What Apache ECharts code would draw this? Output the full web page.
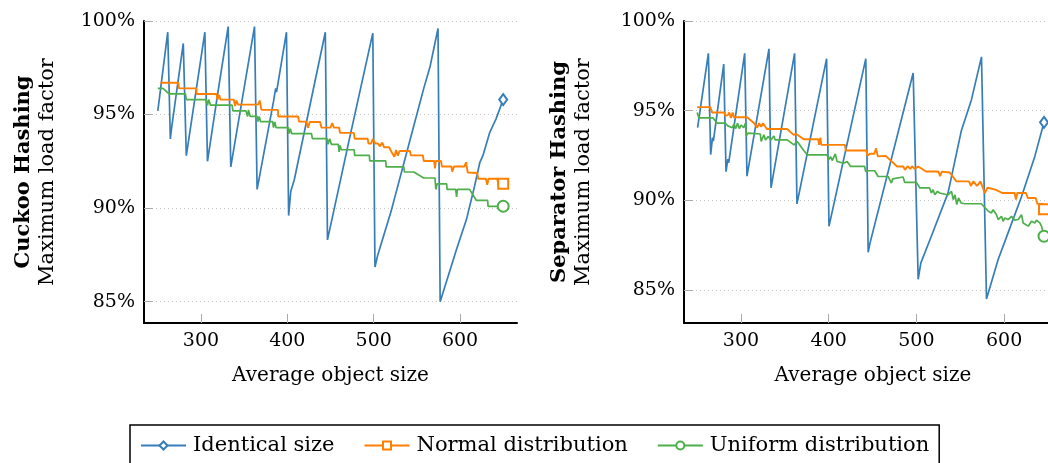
<!DOCTYPE html>
<html>
<head>
<meta charset="utf-8">
<title>Maximum load factor</title>
<script src="https://cdn.jsdelivr.net/npm/echarts@6/dist/echarts.min.js"></script>
<style>
  html, body { margin: 0; padding: 0; background: #fff; overflow: hidden; width: 1048px; height: 463px; }
  /* the right plot runs past the window edge, as in the original */
  #main { width: 1070px; height: 463px; }
</style>
</head>
<body>
<div id="main"></div>
<script>
// tick values
var xTicks = [300, 400, 500, 600];
var yTicks = [85, 90, 95, 100];
var seriesNames = ['Identical size', 'Normal distribution', 'Uniform distribution'];

// Cuckoo hashing, [object size, load factor %]
var cuckooIdentical = [
  [250, 95.2], [261.5, 99.4], [264.5, 93.7], [266, 94.3], [279.5, 98.8], [283, 92.8],
  [304.5, 99.4], [307.5, 92.5], [320, 96.3], [331.5, 99.7], [334.5, 92.2], [362, 99.7],
  [365, 91.0], [384, 95.7], [386.5, 96.4], [387.5, 96.2], [399, 99.4], [401.5, 89.6],
  [404, 90.9], [408, 91.5], [444, 99.4], [446.5, 88.3], [470, 93.3], [499, 99.35],
  [501.5, 86.85], [504.5, 87.45], [514, 88.9], [520, 89.8], [546.5, 94.4], [558, 96.4],
  [565.5, 97.6], [574.5, 99.6], [577, 85.0], [586.5, 86.4], [596, 87.8], [607.5, 89.4],
  [617, 91.2], [623, 92.45], [626.5, 92.8], [634.5, 94.05], [642, 94.8], [650, 95.8]
];
var cuckooNormal = [
  [253, 96.7], [273.8, 96.7], [274.5, 96.4], [294.5, 96.4], [295, 96.1], [318, 96.1],
  [319, 95.8], [321, 96.05], [322.5, 95.8], [338, 95.8], [339.5, 95.45], [341, 95.75],
  [343, 95.53], [366, 95.53], [368, 95.75], [370, 95.25], [389, 95.25], [389.5, 94.9],
  [412.5, 94.9], [413.5, 94.62], [422, 94.62], [424, 94.3], [426, 94.6], [438, 94.6],
  [439.5, 94.3], [450, 94.3], [452, 94.55], [454, 94.3], [460, 94.3], [461, 94.02],
  [477, 94.02], [478, 93.71], [493, 93.71], [494, 93.45], [497, 93.45], [499, 93.7],
  [502, 93.45], [505, 93.45], [507, 93.3], [510, 93.5], [512, 93.25], [518, 93.25],
  [520, 93.05], [524, 92.75], [526, 93.1], [528, 92.8], [530, 93.05], [542, 93.05],
  [543, 92.82], [557, 92.82], [558, 92.52], [570, 92.52], [571, 92.12], [572, 92.52],
  [578, 92.52], [579, 92.22], [590, 92.22], [591, 91.95], [593, 92.22], [605, 92.22],
  [607, 92.45], [609, 91.9], [620, 91.88], [621, 91.57], [630, 91.57], [631.5, 91.25],
  [633, 91.57], [643, 91.57], [645, 91.2], [650, 91.3]
];
var cuckooUniform = [
  [250, 96.4], [256, 96.4], [263, 96.1], [282, 96.1], [283, 95.8], [306, 95.8],
  [307.5, 95.5], [309, 95.8], [311, 95.5], [336, 95.5], [337, 95.2], [352, 95.2],
  [354, 94.9], [355, 95.25], [357, 94.9], [365, 94.9], [366, 94.62], [367.5, 94.9],
  [369, 94.62], [383, 94.62], [384, 94.3], [385.5, 94.6], [387, 94.3], [401, 94.3],
  [402, 93.98], [403.5, 94.25], [405, 93.98], [428, 93.98], [429, 93.71], [446, 93.71],
  [447, 93.41], [449, 93.7], [451, 93.41], [459, 93.41], [460, 93.0], [461, 93.35],
  [462.5, 93.12], [477.5, 93.12], [478, 92.82], [495, 92.82], [495.5, 92.52], [514, 92.52],
  [514.5, 92.2], [535, 92.2], [535.5, 91.93], [546.5, 91.93], [558, 91.61], [571, 91.61],
  [572, 91.0], [573.5, 91.3], [584.5, 91.3], [585, 91.0], [595, 91.0], [596, 90.6],
  [597, 91.0], [611, 91.0], [619, 90.41], [632, 90.41], [632.5, 90.09], [648, 90.09],
  [650, 90.1]
];

// Separator hashing
var sepIdentical = [
  [250.5, 94.05], [262.8, 98.2], [265.4, 92.55], [267.5, 93.5], [268.5, 93.3], [280.3, 97.6],
  [282.9, 91.6], [285, 92.3], [286, 92.1], [304.2, 98.2], [306.8, 91.35], [331.9, 98.45],
  [334.2, 90.7], [361.1, 98.2], [363.8, 89.8], [397.6, 97.9], [400.3, 88.55], [442.3, 97.9],
  [445, 87.1], [447, 87.6], [496.3, 97.1], [502, 85.6], [505, 86.5], [517, 88.0],
  [536, 90.4], [551.3, 93.9], [562.7, 95.6], [574.2, 98.0], [579.9, 84.5], [593.2, 86.7],
  [604.6, 88.2], [619.8, 90.2], [635, 92.45], [645.5, 94.35]
];
var sepNormal = [
  [250, 95.2], [265, 95.2], [267, 94.9], [281, 94.9], [282, 94.72], [285, 94.75],
  [286.5, 94.9], [288.5, 94.6], [290.5, 94.9], [292, 94.63], [307, 94.63], [315, 94.3],
  [317, 94.3], [318.5, 94.05], [320.5, 94.3], [323, 94.1], [325, 94.3], [329.5, 93.98],
  [352.5, 93.98], [360, 93.65], [363, 93.7], [371.5, 93.41], [388, 93.41], [389, 93.1],
  [390.5, 93.5], [391.5, 93.09], [418.5, 93.09], [419.5, 92.78], [443, 92.78], [444, 92.48],
  [447, 92.6], [452, 92.6], [454, 92.9], [456, 92.45], [465, 92.48], [478, 91.89],
  [485, 91.89], [487, 91.7], [490, 91.9], [493, 91.75], [495, 91.9], [498, 91.75],
  [502, 91.89], [511, 91.61], [525, 91.61], [527, 91.35], [529, 91.6], [538, 91.55],
  [545.5, 91.06], [560, 91.06], [562, 90.8], [565, 91.06], [569, 90.8], [573, 91.06],
  [578, 90.41], [581, 90.7], [590, 90.6], [598, 90.41], [612, 90.41], [613.5, 90.05],
  [615, 90.41], [625, 90.41], [627, 90.13], [636, 90.13], [638, 89.8], [644, 89.8],
  [645, 89.25], [645.5, 89.5]
];
var sepUniform = [
  [250, 94.9], [252, 94.6], [268, 94.6], [273, 94.3], [282, 94.3], [285, 94.15],
  [290, 94.05], [292, 94.25], [294, 94.0], [296, 94.3], [298, 94.0], [300, 94.2],
  [303, 94.05], [305, 94.3], [306, 93.6], [308, 93.75], [322, 93.7], [323, 93.28],
  [326, 93.65], [328, 93.37], [331, 93.56], [334, 93.37], [337.5, 93.59], [339, 93.37],
  [349, 93.37], [350.8, 93.46], [352.7, 93.37], [360.3, 93.09], [364, 93.28], [367, 93.09],
  [371.5, 92.78], [375.5, 92.54], [398, 92.54], [400, 92.26], [402, 92.44], [404, 92.22],
  [407.5, 92.59], [409.5, 92.17], [417, 92.07], [421, 92.17], [425, 91.89], [441, 91.89],
  [442, 91.61], [444.9, 91.65], [452.5, 91.65], [456.3, 91.33], [467.7, 91.33], [471.5, 90.96],
  [473, 91.2], [484.8, 91.3], [486.7, 91.0], [500, 91.0], [504, 90.69], [515, 90.69],
  [517, 90.41], [519, 90.59], [521, 90.31], [524, 90.5], [526.5, 90.41], [528.5, 90.31],
  [536, 90.3], [540, 90.5], [542, 90.04], [544, 90.31], [546, 89.76], [548, 90.13],
  [551, 89.85], [555, 89.81], [574, 89.81], [582, 89.39], [583.7, 89.48], [585.6, 89.3],
  [587.5, 89.48], [591.3, 89.2], [593.2, 88.93], [597, 89.11], [598.9, 88.83], [600.8, 89.02],
  [604.6, 88.93], [608.4, 89.11], [612.2, 88.89], [616, 88.93], [619.8, 89.2], [621.7, 88.74],
  [623.6, 88.83], [627.4, 88.56], [631.2, 88.83], [635, 88.74], [636.9, 88.89], [640.7, 88.74],
  [642.6, 88.56], [645.5, 88.0]
];

var colors = ['#377eb8', '#ff7f00', '#4daf4a'];
var marks = ['emptyDiamond', 'emptyRect', 'emptyCircle'];
var markSizes = [[8, 11], 10, 11];
var FONT = "'DejaVu Serif', serif";

var myChart = echarts.init(document.getElementById('main'));

// only the last point of each line carries a marker
function withEndMark(points, k) {
    return points.map(function (p, i) {
        if (i < points.length - 1) return {value: p, symbol: 'none'};
        return {value: p, symbolSize: markSizes[k]};
    });
}

function makeX(gi, min) {
    return {
        type: 'value', gridIndex: gi, min: min, max: 666,
        minInterval: 100, maxInterval: 100,
        name: 'Average object size', nameLocation: 'middle', nameGap: 43,
        nameTextStyle: {fontFamily: FONT, fontSize: 20, color: '#000'},
        axisLine: {lineStyle: {color: '#000', width: 2}},
        axisTick: {inside: true, length: 9, customValues: xTicks, lineStyle: {color: '#aaa', width: 1}},
        axisLabel: {customValues: xTicks, margin: 9, fontFamily: FONT, fontSize: 19, color: '#000'},
        splitLine: {show: false}
    };
}

function makeY(gi, min, title, gap) {
    return {
        type: 'value', gridIndex: gi, min: min, max: 100,
        minInterval: 5, maxInterval: 5,
        name: '{b|' + title + '}\n{r|Maximum load factor}',
        nameLocation: 'middle', nameRotate: 90, nameGap: gap,
        nameTextStyle: {
            color: '#000',
            rich: {
                b: {fontFamily: FONT, fontWeight: 'bold', fontSize: 21, lineHeight: 24, color: '#000'},
                r: {fontFamily: FONT, fontSize: 21, lineHeight: 24, color: '#000'}
            }
        },
        axisLine: {lineStyle: {color: '#000', width: 2}},
        axisTick: {inside: true, length: 9, customValues: yTicks, lineStyle: {color: '#aaa', width: 1}},
        axisLabel: {customValues: yTicks, margin: 9, formatter: '{value}%', fontFamily: FONT, fontSize: 19, color: '#000'},
        splitLine: {show: true, lineStyle: {color: '#c8c8c8', width: 1, type: [1, 3]}}
    };
}

function makeLine(k, gi, points) {
    return {
        name: seriesNames[k], type: 'line', xAxisIndex: gi, yAxisIndex: gi,
        data: withEndMark(points, k),
        symbol: marks[k], symbolSize: markSizes[k], showSymbol: true,
        color: colors[k],
        lineStyle: {width: k === 1 ? 1.9 : 1.7, color: colors[k]},
        itemStyle: {color: colors[k], borderWidth: 1.7},
        clip: false,
        animation: false
    };
}

myChart.setOption({
    animation: false,
    backgroundColor: '#fff',
    grid: [
        {left: 144, top: 21, width: 373, height: 302},
        {left: 684, top: 21, width: 378, height: 302}
    ],
    xAxis: [makeX(0, 234), makeX(1, 235)],
    yAxis: [makeY(0, 83.86, 'Cuckoo Hashing', 84), makeY(1, 83.16, 'Separator Hashing', 88)],
    legend: {
        left: 130, top: 425,
        padding: [10, 10, 8, 10],
        itemGap: 29, itemWidth: 45, itemHeight: 10,
        borderColor: '#000', borderWidth: 1.5, borderRadius: 0,
        textStyle: {fontFamily: FONT, fontSize: 21, color: '#000', padding: [0, 0, 0, 2]},
        data: seriesNames
    },
    series: [
        makeLine(0, 0, cuckooIdentical),
        makeLine(1, 0, cuckooNormal),
        makeLine(2, 0, cuckooUniform),
        makeLine(0, 1, sepIdentical),
        makeLine(1, 1, sepNormal),
        makeLine(2, 1, sepUniform)
    ]
});
</script>
</body>
</html>
